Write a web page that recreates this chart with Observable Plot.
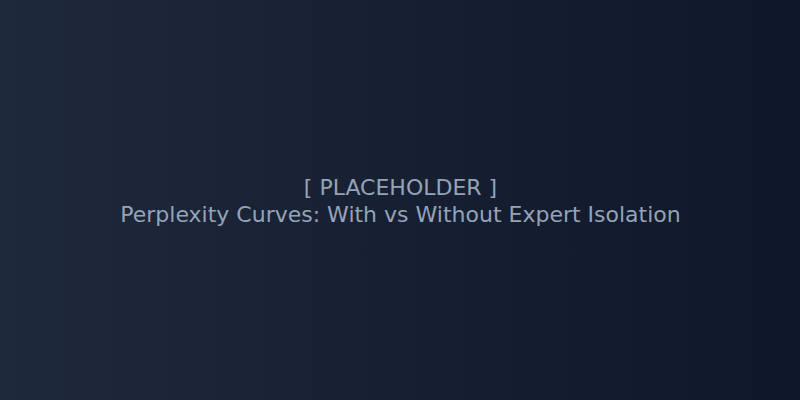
<!DOCTYPE html>
<html>
<head>
<meta charset="utf-8">
<script src="https://cdn.jsdelivr.net/npm/d3@7"></script>
<script src="https://cdn.jsdelivr.net/npm/@observablehq/plot@0.6"></script>
<style>
  html, body { margin: 0; padding: 0; background: #0f172a; }
  #chart svg { display: block; }
</style>
</head>
<body>
<div id="chart"></div>
<script>
const lines = ["[ PLACEHOLDER ]", "Perplexity Curves: With vs Without Expert Isolation"];
const rows = [0, 1];

const data = rows.map((r, i) => ({row: r, label: lines[i]}));

const chart = Plot.plot({
  width: 800,
  height: 400,
  margin: 0,
  style: {
    background: "linear-gradient(90deg, #1e293b 0%, #0f172a 100%)",
    fontFamily: "DejaVu Sans, sans-serif"
  },
  x: {axis: null, domain: [0, 1]},
  y: {axis: null, domain: [0, 1], range: [187, 214]},
  marks: [
    Plot.text(data, {
      y: "row",
      frameAnchor: "middle",
      text: "label",
      fill: "#94a3b8",
      fontSize: 22,
      fontFamily: "DejaVu Sans"
    })
  ]
});
document.getElementById("chart").appendChild(chart);
</script>
</body>
</html>
